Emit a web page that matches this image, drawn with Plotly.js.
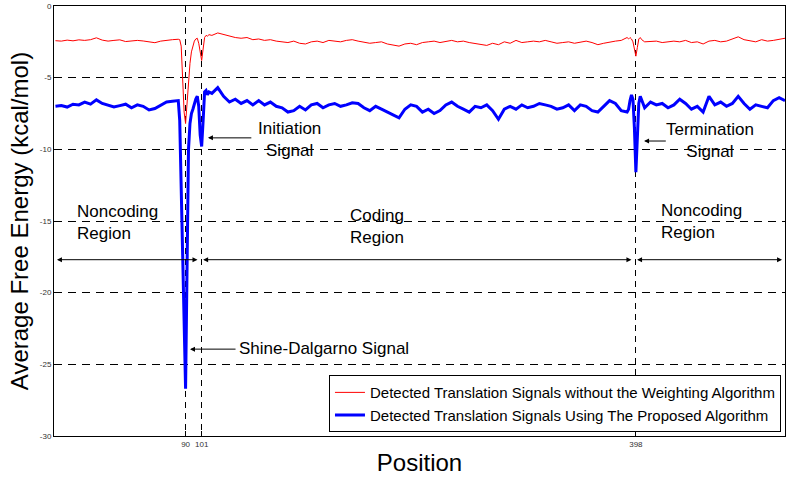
<!DOCTYPE html>
<html>
<head>
<meta charset="utf-8">
<script src="https://cdn.plot.ly/plotly-3.0.1.min.js"></script>
<style>html,body{margin:0;padding:0;background:#fff;}#chart{width:786px;height:477px;}</style>
</head>
<body>
<div id="chart"></div>
<script>
const positions = [
  1,5,9,13,17,21,25,29,33,37,41,45,49,53,57,61,65,69,73,77,81,85,
  86,87,88,89,90,91,92,93,94,95,96,97,98,99,100,101,102,103,104,105,106,
  108,112,116,120,124,128,132,136,140,144,148,152,156,160,164,168,172,176,180,184,
  188,192,196,200,204,208,212,216,220,224,228,232,236,240,244,248,252,256,260,264,
  268,272,276,280,284,288,292,296,300,304,308,312,316,320,324,328,332,336,340,344,
  348,352,356,360,364,368,372,376,380,384,388,392,
  393,394,395,396,397,398,399,400,401,402,404,
  408,412,416,420,424,428,432,436,440,444,448,452,456,460,464,468,472,476,480,484,488,492,496,500
];
const redValues = [
  -2.42,-2.45,-2.38,-2.43,-2.36,-2.40,-2.35,-2.22,-2.38,-2.45,-2.40,-2.36,-2.48,-2.42,-2.40,-2.44,-2.52,-2.56,-2.45,-2.38,-2.35,-2.32,
  -2.35,-2.8,-5.0,-7.4,-8.2,-6.8,-5.2,-4.0,-3.2,-2.7,-2.45,-2.3,-2.25,-2.6,-3.4,-3.8,-3.0,-2.2,-2.05,-2.1,-2.0,
  -2.05,-1.88,-2.0,-2.1,-2.2,-2.25,-2.2,-2.35,-2.3,-2.4,
  -2.35,-2.45,-2.5,-2.55,-2.45,-2.6,-2.65,-2.5,-2.45,-2.55,
  -2.4,-2.45,-2.5,-2.4,-2.35,-2.45,-2.5,-2.6,-2.55,-2.5,
  -2.65,-2.7,-2.8,-2.65,-2.6,-2.7,-2.55,-2.5,-2.45,-2.55,
  -2.5,-2.4,-2.5,-2.45,-2.55,-2.6,-2.65,-2.75,-2.6,-2.7,
  -2.5,-2.6,-2.4,-2.55,-2.5,-2.45,-2.5,-2.4,-2.5,-2.6,
  -2.55,-2.5,-2.6,-2.5,-2.45,-2.55,-2.7,-2.6,-2.5,-2.45,
  -2.4,-2.2,
  -2.3,-2.2,-2.3,-2.5,-3.0,-3.5,-2.9,-2.3,-2.2,-2.35,-2.5,
  -2.5,-2.45,-2.55,-2.5,-2.45,-2.5,-2.4,-2.55,-2.5,-2.65,-2.45,-2.4,-2.5,-2.45,-2.3,-2.15,-2.35,-2.4,-2.5,-2.35,-2.45,-2.4,-2.3,-2.25
];
const blueValues = [
  -7.00,-6.95,-7.05,-6.85,-6.90,-6.70,-6.85,-6.55,-6.80,-6.90,-7.05,-6.95,-6.85,-7.10,-6.90,-7.00,-7.25,-7.15,-6.90,-6.70,-6.65,-6.60,
  -8.0,-12.0,-17.0,-22.0,-26.7,-19.0,-10.0,-8.2,-7.5,-7.2,-6.8,-6.5,-6.3,-7.0,-9.0,-9.8,-8.0,-6.0,-5.9,-6.2,-6.0,
  -6.1,-5.7,-6.3,-6.7,-6.5,-6.8,-6.6,-6.9,-6.6,-6.9,
  -6.7,-7.0,-7.1,-7.4,-7.3,-7.0,-7.25,-6.9,-6.8,-7.1,
  -6.9,-6.8,-7.0,-6.9,-6.75,-6.8,-7.1,-7.3,-7.0,-7.2,
  -7.4,-7.6,-7.8,-7.2,-6.9,-7.0,-7.4,-7.2,-7.5,-7.3,
  -6.9,-6.7,-7.0,-7.2,-7.4,-7.0,-7.1,-6.9,-7.3,-7.9,
  -7.2,-7.0,-7.2,-6.9,-7.1,-7.0,-6.8,-6.9,-7.0,-7.2,
  -7.1,-6.9,-7.3,-6.9,-7.0,-7.3,-7.4,-7.0,-6.6,-6.8,
  -7.3,-7.4,
  -7.2,-6.6,-6.2,-6.5,-8.5,-11.6,-9.0,-6.8,-6.3,-6.6,-7.1,
  -6.7,-6.9,-6.8,-7.1,-6.9,-6.5,-6.8,-7.2,-7.0,-7.4,-6.3,-6.9,-6.7,-7.0,-6.8,-6.3,-6.8,-7.2,-6.9,-7.0,-7.1,-6.6,-6.4,-6.6
];
const seriesNames = [
  'Detected Translation Signals without the Weighting Algorithm',
  'Detected Translation Signals Using The Proposed Algorithm'
];
const xTickValues = [90, 101, 398];
const xTickLabels = ['90', '101', '398'];
const yTickValues = [0, -5, -10, -15, -20, -25, -30];
const yTickLabels = ['0', '-5', '-10', '-15', '-20', '-25', '-30'];

const FONT = 'Liberation Sans, Arial, sans-serif';

const traces = [
  {x: positions, y: redValues, type: 'scatter', mode: 'lines', name: seriesNames[0],
   line: {color: '#ff0000', width: 1}},
  {x: positions, y: blueValues, type: 'scatter', mode: 'lines', name: seriesNames[1],
   line: {color: '#0000ff', width: 3}}
];

function label(x, y, text, xanchor, align) {
  return {x: x, y: y, xref: 'x', yref: 'y', text: text, showarrow: false,
          xanchor: xanchor, yanchor: 'middle', align: align,
          font: {family: FONT, size: 17, color: '#000'}};
}
function arrow(xHead, yHead, xTail, yTail, both) {
  return {x: xHead, y: yHead, ax: xTail, ay: yTail, xref: 'x', yref: 'y', axref: 'x', ayref: 'y',
          text: '', showarrow: true, arrowhead: 2, arrowsize: 1, arrowwidth: 1, arrowcolor: '#000',
          arrowside: both ? 'end+start' : 'end', standoff: 0, startstandoff: 0};
}

const annotations = [
  label(161, -9.3, 'Initiation<br>Signal', 'center', 'center'),
  label(449, -9.4, 'Termination<br>Signal', 'center', 'center'),
  label(125.5, -23.9, 'Shine-Dalgarno Signal', 'left', 'left'),
  label(14.5, -15.1, 'Noncoding<br>Region', 'left', 'left'),
  label(221, -15.4, 'Coding<br>Region', 'center', 'center'),
  label(413.5, -15.0, 'Noncoding<br>Region', 'left', 'left'),
  arrow(105.3, -9.2, 136, -9.2, false),
  arrow(403.6, -9.42, 419.5, -9.42, false),
  arrow(93, -23.94, 125.2, -23.94, false),
  arrow(2, -17.7, 99.2, -17.7, true),
  arrow(102, -17.7, 396, -17.7, true),
  arrow(398.8, -17.7, 499, -17.7, true)
];

const layout = {
  width: 786, height: 477,
  margin: {l: 54, r: 1, t: 6, b: 41, pad: 0},
  paper_bgcolor: '#fff', plot_bgcolor: '#fff',
  font: {family: FONT, color: '#000'},
  showlegend: true,
  legend: {x: 0.9945, y: 0.009, xanchor: 'right', yanchor: 'bottom',
           bgcolor: '#fff', bordercolor: '#000', borderwidth: 1,
           font: {family: FONT, size: 15, color: '#000'}, tracegroupgap: 0},
  xaxis: {range: [0, 500], tickvals: xTickValues, ticktext: xTickLabels,
          showgrid: true, gridcolor: '#000', griddash: '6px,5px', gridwidth: 1,
          zeroline: false, showline: true, linecolor: '#000', linewidth: 1, mirror: true,
          ticks: 'inside', ticklen: 5, tickcolor: '#000',
          tickfont: {family: FONT, size: 8, color: '#333'},
          title: {text: 'Position', font: {family: FONT, size: 24, color: '#000'}, standoff: 6}},
  yaxis: {range: [-30, 0], tickvals: yTickValues, ticktext: yTickLabels,
          showgrid: true, gridcolor: '#000', griddash: '8px,6px', gridwidth: 1,
          zeroline: false, showline: true, linecolor: '#000', linewidth: 1, mirror: true,
          ticks: 'inside', ticklen: 5, tickcolor: '#000',
          tickfont: {family: FONT, size: 8, color: '#333'},
          title: {text: 'Average Free Energy (kcal/mol)', font: {family: FONT, size: 24, color: '#000'}, standoff: 4}},
  annotations: annotations
};

Plotly.newPlot('chart', traces, layout, {displayModeBar: false, staticPlot: true});
</script>
</body>
</html>
